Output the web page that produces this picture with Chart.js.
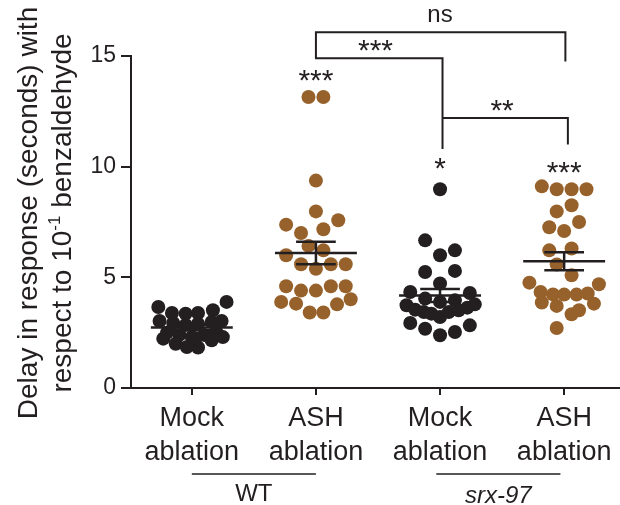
<!DOCTYPE html>
<html>
<head>
<meta charset="utf-8">
<script src="https://cdn.jsdelivr.net/npm/chart.js@4/dist/chart.umd.min.js"></script>
<style>
  body { margin: 0; background: #fff; }
  canvas { display: block; }
</style>
</head>
<body>
<canvas id="dotPlot" width="620" height="505"></canvas>
<script>
// category labels (two lines each)
const categories = [["Mock", "ablation"], ["ASH", "ablation"], ["Mock", "ablation"], ["ASH", "ablation"]];
const yTicks = [0, 5, 10, 15];

// delay values (seconds)
const wtMock = [3.66, 3.39, 3.36, 3.39, 3.51, 3.89, 3.03, 2.94, 2.85, 2.9, 2.98, 3.03,
  2.5, 2.4, 2.3, 2.4, 2.5, 2.23, 2.0, 1.85, 1.83, 2.16, 2.3, 2.25];
const wtMockJitter = [-0.27, -0.16, -0.05, 0.05, 0.17, 0.28, -0.26, -0.15, -0.05, 0.05, 0.16, 0.24,
  -0.2, -0.1, 0, 0.1, 0.2, -0.23, -0.13, -0.04, 0.05, 0.16, 0.25, 0.03];

const wtAsh = [13.15, 13.15, 9.37, 7.98, 7.38, 7.58, 7.0, 7.17, 6.42, 6.22, 6.0,
  5.59, 5.39, 5.59, 5.59, 4.6, 4.4, 4.4, 4.6, 4.6, 3.89, 3.81, 3.78, 4.01, 3.41, 3.41];
const wtAshJitter = [-0.06, 0.06, 0, 0, -0.24, 0.18, -0.12, 0.06, -0.06, 0.06, -0.24,
  -0.12, 0, 0.12, 0.24, -0.24, -0.12, 0, 0.12, 0.24, -0.28, -0.16, 0.17, 0.28, -0.05, 0.06];

const srxMock = [8.98, 6.67, 6.0, 6.22, 5.24, 5.29, 4.72, 4.34, 4.29, 4.04, 3.89, 3.96,
  3.74, 3.54, 3.43, 3.36, 3.21, 3.43, 3.51, 3.63, 3.78, 2.94, 2.68, 2.38, 2.53, 2.83];
const srxMockJitter = [0, -0.12, 0, 0.12, -0.12, 0.12, 0, -0.24, 0.24, -0.12, 0, 0.12,
  -0.27, -0.2, -0.13, -0.07, 0, 0.07, 0.15, 0.22, 0.28, -0.24, -0.12, 0, 0.12, 0.24];

const srxAsh = [9.11, 8.98, 8.98, 8.98, 7.98, 8.26, 7.26, 7.09, 7.5, 6.22, 6.3, 5.58, 5.09,
  4.76, 4.69, 4.34, 4.23, 4.22, 4.22, 4.27, 3.86, 3.71, 3.81, 3.33, 3.51, 2.71];
const srxAshJitter = [-0.18, -0.06, 0.06, 0.18, -0.06, 0.06, -0.12, 0, 0.12, -0.12, 0.06, -0.06, 0.06,
  -0.28, 0.28, -0.19, -0.09, 0, 0.1, 0.19, -0.18, -0.06, 0.24, 0.06, 0.12, -0.06];

const groups = [wtMock, wtAsh, srxMock, srxAsh];
const jitters = [wtMockJitter, wtAshJitter, srxMockJitter, srxAshJitter];
const groupColors = ["#231f20", "#96612a", "#231f20", "#96612a"];

// significance marks: [label, x (category), y (value)]
const stars = [["***", 1, 14.22], ["*", 2, 10.24], ["***", 3, 10.06], ["***", 1.48, 15.58], ["**", 2.5, 12.87]];

const FONT = "'Liberation Sans', Arial, Helvetica, sans-serif";
const INK = "#231f20";

function mean(a) {
  return a.reduce((s, v) => s + v, 0) / a.length;
}
function sem(a) {
  const m = mean(a);
  const sd = Math.sqrt(a.reduce((s, v) => s + (v - m) * (v - m), 0) / (a.length - 1));
  return sd / Math.sqrt(a.length);
}

// mean / SEM bars, brackets, group labels, axis title
const overlay = {
  id: "overlay",
  afterDatasetsDraw(chart) {
    const { ctx, chartArea, scales: { x, y } } = chart;
    const px = (v) => x.getPixelForValue(v);
    const py = (v) => y.getPixelForValue(v);
    ctx.save();
    ctx.strokeStyle = INK;
    ctx.fillStyle = INK;
    ctx.lineWidth = 2.5;

    // mean with SEM
    groups.forEach((g, i) => {
      const m = mean(g), s = sem(g);
      const cx = px(i);
      const wMean = px(i + 0.33) - cx;
      const wCap = px(i + 0.16) - cx;
      const ym = py(m), yt = py(m + s), yb = py(m - s);
      ctx.beginPath();
      ctx.moveTo(cx - wMean, ym); ctx.lineTo(cx + wMean, ym);
      ctx.moveTo(cx, yt); ctx.lineTo(cx, yb);
      ctx.moveTo(cx - wCap, yt); ctx.lineTo(cx + wCap, yt);
      ctx.moveTo(cx - wCap, yb); ctx.lineTo(cx + wCap, yb);
      ctx.stroke();
    });

    // brackets
    ctx.lineWidth = 2;
    ctx.beginPath();
    // ns : WT ASH vs srx ASH
    ctx.moveTo(px(1), py(14.85)); ctx.lineTo(px(1), py(16.07));
    ctx.lineTo(px(3.01), py(16.07)); ctx.lineTo(px(3.01), py(14.75));
    // *** : WT ASH vs srx Mock
    ctx.moveTo(px(1), py(14.9)); ctx.lineTo(px(2.02), py(14.9)); ctx.lineTo(px(2.02), py(10.8));
    // ** : srx Mock vs srx ASH
    ctx.moveTo(px(2.02), py(12.2)); ctx.lineTo(px(3.03), py(12.2)); ctx.lineTo(px(3.03), py(11.0));
    ctx.stroke();

    ctx.textAlign = "center";
    ctx.textBaseline = "middle";
    ctx.font = "24px " + FONT;
    ctx.fillText("ns", px(2), py(16.84));
    // asterisks: glyph sits high, so put the baseline below the wanted centre
    ctx.textBaseline = "alphabetic";
    ctx.font = "30px " + FONT;
    stars.forEach(([t, cx, v]) => ctx.fillText(t, px(cx), py(v) + 17));

    // genotype lines under the category labels
    const yLine = chartArea.bottom + 86;
    ctx.lineWidth = 1.5;
    ctx.beginPath();
    ctx.moveTo(px(0), yLine); ctx.lineTo(px(1), yLine);
    ctx.moveTo(px(1.97), yLine); ctx.lineTo(px(2.97), yLine);
    ctx.stroke();
    ctx.textBaseline = "middle";
    ctx.font = "24px " + FONT;
    ctx.fillText("WT", px(0.5), yLine + 20);
    ctx.font = "italic 24px " + FONT;
    ctx.fillText("srx-97", px(2.47), yLine + 22);

    // y axis title, two rotated lines
    ctx.translate(0, 213);
    ctx.rotate(-Math.PI / 2);
    ctx.font = "28px " + FONT;
    ctx.textAlign = "center";
    ctx.fillText("Delay in response (seconds) with", 0, 29);
    const a = "respect to 10", sup = "-1", b = " benzaldehyde";
    const wa = ctx.measureText(a).width, wb = ctx.measureText(b).width;
    ctx.font = "17px " + FONT;
    const ws = ctx.measureText(sup).width;
    const sx = -(wa + ws + wb) / 2;
    ctx.textAlign = "left";
    ctx.font = "28px " + FONT;
    ctx.fillText(a, sx, 63);
    ctx.font = "17px " + FONT;
    ctx.fillText(sup, sx + wa, 55);
    ctx.font = "28px " + FONT;
    ctx.fillText(b, sx + wa + ws, 63);
    ctx.restore();
  }
};

const datasets = groups.map((g, i) => ({
  data: g.map((v, j) => ({ x: i + jitters[i][j], y: v })),
  backgroundColor: groupColors[i],
  borderWidth: 0,
  pointRadius: 7,
  pointHoverRadius: 7
}));

new Chart(document.getElementById("dotPlot"), {
  type: "scatter",
  data: { datasets: datasets },
  options: {
    responsive: false,
    devicePixelRatio: 1,
    animation: false,
    layout: { autoPadding: false, padding: { top: 56, right: 0, bottom: 0, left: 0 } },
    plugins: { legend: { display: false }, tooltip: { enabled: false } },
    scales: {
      x: {
        type: "linear",
        min: -0.49,
        max: 3.45,
        afterBuildTicks: (s) => { s.ticks = categories.map((c, i) => ({ value: i })); },
        afterFit: (s) => { s.height = 117; s.paddingLeft = 0; s.paddingRight = 0; },
        grid: { drawOnChartArea: false, drawTicks: true, tickLength: 7, color: INK, lineWidth: 2 },
        border: { display: true, color: INK, width: 2 },
        ticks: {
          color: INK,
          padding: 7,
          maxRotation: 0,
          font: { family: FONT, size: 27, lineHeight: 1.24 },
          callback: (v) => categories[v]
        }
      },
      y: {
        min: 0,
        max: 15,
        afterBuildTicks: (s) => { s.ticks = yTicks.map((v) => ({ value: v })); },
        afterFit: (s) => { s.width = 131; },
        grid: { drawOnChartArea: false, drawTicks: true, tickLength: 10, color: INK, lineWidth: 2 },
        border: { display: true, color: INK, width: 2 },
        ticks: {
          color: INK,
          padding: 5,
          font: { family: FONT, size: 23 }
        }
      }
    }
  },
  plugins: [overlay]
});
</script>
</body>
</html>
